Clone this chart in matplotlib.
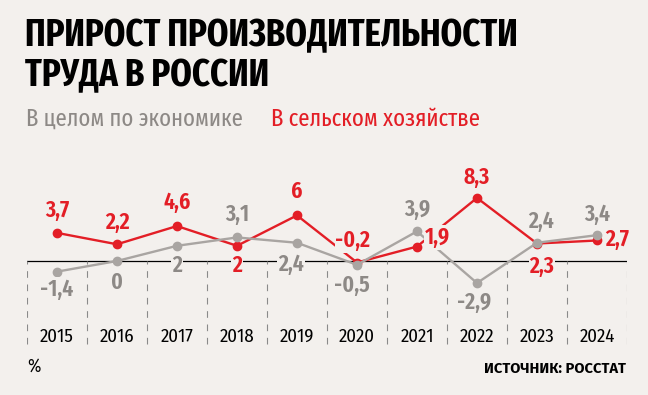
import matplotlib
matplotlib.use('Agg')
import matplotlib.pyplot as plt

# data
years = [2015, 2016, 2017, 2018, 2019, 2020, 2021, 2022, 2023, 2024]
economy = [-1.4, 0, 2, 3.1, 2.4, -0.5, 3.9, -2.9, 2.4, 3.4]
agriculture = [3.7, 2.2, 4.6, 2, 6, -0.2, 1.9, 8.3, 2.3, 2.7]

# label offsets in pixels (dx, dy) from each point
economy_offsets = [(0, -18), (0, -21), (0, -20), (0, 23), (-6, -22),
                   (-5, -21), (0, 22), (-3, -19), (4, 21), (0, 21)]
agri_offsets = [(0, 23), (0, 22), (0, 24), (0, -20), (0, 24),
                (-4, 22), (20, 9), (0, 21), (5, -23), (20, 1)]

BG = '#f3f0ed'
RED = '#e31e26'
GRAY_LINE = '#a9a5a2'
GRAY_TEXT = '#8d8986'
COND = 'Fira Sans Extra Condensed'
COND2 = 'Fira Sans Condensed'

fig = plt.figure(figsize=(6.48, 3.95), dpi=100, facecolor=BG)
W, H = 648, 395
# axes: x from 27 to 627 px, y from 150 to 350 px
ax = fig.add_axes([27 / W, 1 - 350 / H, 600 / W, 200 / H])
ax.set_facecolor(BG)
ax.axis('off')

px_per_unit = 7.6
zero_px = 261
ax.set_xlim(-0.5, len(years) - 0.5)
ax.set_ylim(-(350 - zero_px) / px_per_unit, (zero_px - 150) / px_per_unit)

x = list(range(len(years)))

# zero line and dashed separators
ax.axhline(0, color='black', lw=0.9, zorder=1)
sep_bottom = -(344 - zero_px) / px_per_unit
ax.vlines([i - 0.5 for i in range(len(years) + 1)], sep_bottom, 0,
          colors='#8a8a8a', lw=0.8, linestyles=(0, (6, 6)), zorder=1)

ax.plot(x, agriculture, color=RED, lw=1.7, marker='o', ms=6, zorder=3)
ax.plot(x, economy, color=GRAY_LINE, lw=1.7, marker='o', ms=6, zorder=4)


def fmt(v):
    return f'{v:g}'.replace('.', ',')


for xi, v, off in zip(x, economy, economy_offsets):
    ax.annotate(fmt(v), (xi, v), xytext=off, textcoords='offset pixels',
                ha='center', va='center', fontsize=17, family=COND,
                weight='semibold', color=GRAY_TEXT, zorder=6,
                bbox=dict(facecolor=BG, edgecolor='none', pad=0.5))
for xi, v, off in zip(x, agriculture, agri_offsets):
    ax.annotate(fmt(v), (xi, v), xytext=off, textcoords='offset pixels',
                ha='center', va='center', fontsize=17, family=COND,
                weight='semibold', color=RED, zorder=6,
                bbox=dict(facecolor=BG, edgecolor='none', pad=0.5))

for xi, yr in zip(x, years):
    ax.text(xi, 13 / 200, str(yr), transform=ax.get_xaxis_transform(),
            ha='center', va='center', fontsize=13.5, family=COND2,
            color='black')

# titles
fig.text(25 / W, 1 - 36 / H, 'ПРИРОСТ ПРОИЗВОДИТЕЛЬНОСТИ', ha='left', va='center',
         fontsize=27, family=COND, weight='bold', color='black')
fig.text(25 / W, 1 - 76 / H, 'ТРУДА В РОССИИ', ha='left', va='center',
         fontsize=27, family=COND, weight='bold', color='black')
fig.text(26 / W, 1 - 119 / H, 'В целом по экономике', ha='left', va='center',
         fontsize=17.8, family=COND, color=GRAY_TEXT)
fig.text(271 / W, 1 - 119 / H, 'В сельском хозяйстве', ha='left', va='center',
         fontsize=17.8, family=COND, color=RED)

# footer
fig.text(27 / W, 1 - 367 / H, '%', ha='left', va='center',
         fontsize=13, family=COND2, color='black')
fig.text(626 / W, 1 - 369 / H, 'ИСТОЧНИК: РОССТАТ', ha='right', va='center',
         fontsize=10.6, family='Fira Sans', weight='bold', color='black')

fig.savefig('out.png', dpi=100, facecolor=BG)
